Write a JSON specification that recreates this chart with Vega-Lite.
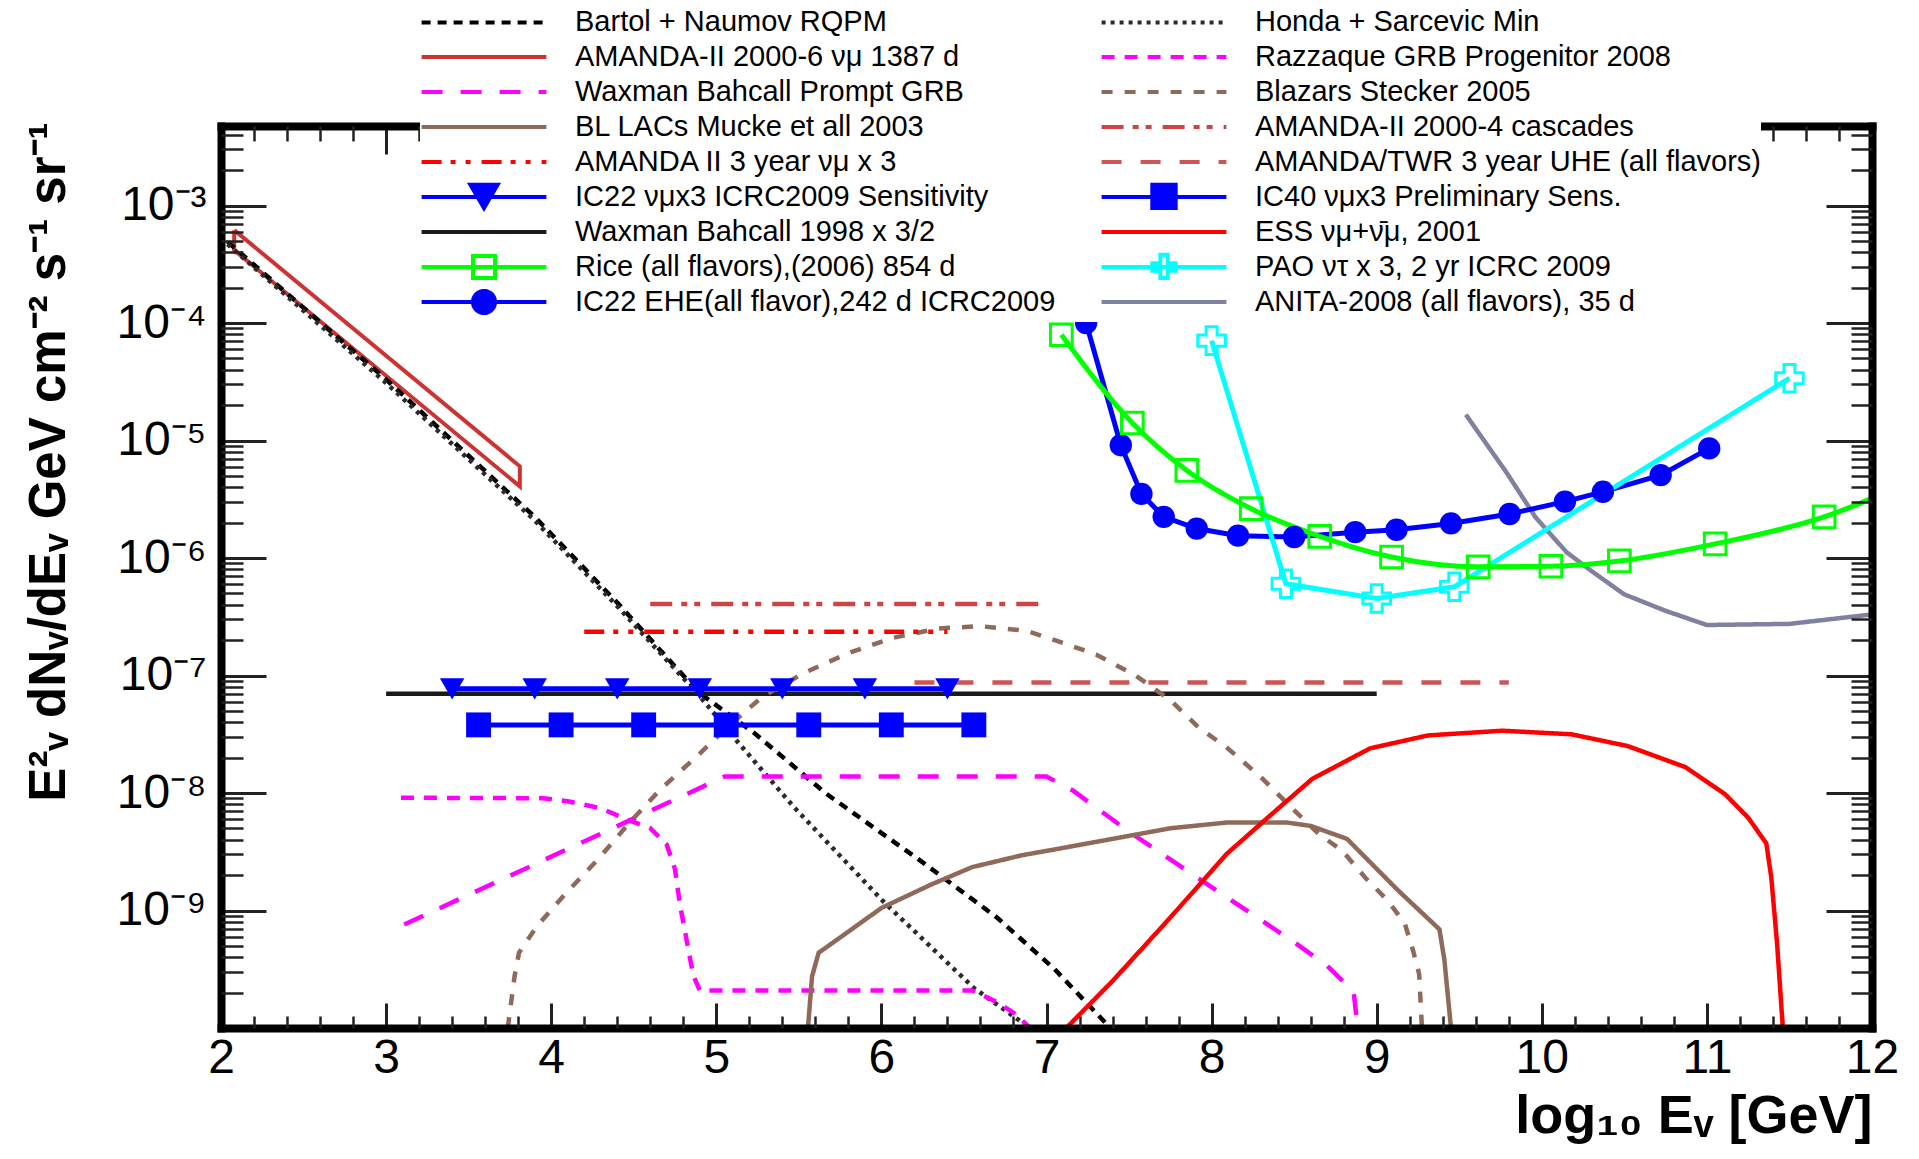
{
  "$schema": "https://vega.github.io/schema/vega-lite/v6.json",
  "width": 1651,
  "height": 902,
  "autosize": {"type": "none"},
  "padding": {"left": 221, "top": 126, "right": 47, "bottom": 131},
  "background": "#ffffff",
  "config": {"view": {"stroke": null}, "font": "Liberation Sans"},
  "datasets": {
    "band": [
      {"series": "AMANDA-II 2000-6 νμ 1387 d", "x": 2.08, "flux": 6.17e-4, "i": 0},
      {"series": "AMANDA-II 2000-6 νμ 1387 d", "x": 3.81, "flux": 6.03e-6, "i": 1},
      {"series": "AMANDA-II 2000-6 νμ 1387 d", "x": 3.81, "flux": 4.07e-6, "i": 2},
      {"series": "AMANDA-II 2000-6 νμ 1387 d", "x": 2.08, "flux": 4.17e-4, "i": 3},
      {"series": "AMANDA-II 2000-6 νμ 1387 d", "x": 2.08, "flux": 6.17e-4, "i": 4}
    ],
    "curves": [
      {"series": "Bartol + Naumov RQPM", "x": 2.04, "flux": 4.9e-4},
      {"series": "Bartol + Naumov RQPM", "x": 3.0, "flux": 3.31e-5},
      {"series": "Bartol + Naumov RQPM", "x": 3.9, "flux": 2.24e-6},
      {"series": "Bartol + Naumov RQPM", "x": 4.4, "flux": 4.17e-7},
      {"series": "Bartol + Naumov RQPM", "x": 4.89, "flux": 7.24e-8},
      {"series": "Bartol + Naumov RQPM", "x": 5.23, "flux": 3.24e-8},
      {"series": "Bartol + Naumov RQPM", "x": 5.66, "flux": 1.0e-8},
      {"series": "Bartol + Naumov RQPM", "x": 6.24, "flux": 2.63e-9},
      {"series": "Bartol + Naumov RQPM", "x": 6.7, "flux": 8.71e-10},
      {"series": "Bartol + Naumov RQPM", "x": 7.05, "flux": 3.16e-10},
      {"series": "Bartol + Naumov RQPM", "x": 7.4, "flux": 9.55e-11},

      {"series": "Honda + Sarcevic Min", "x": 2.04, "flux": 4.68e-4},
      {"series": "Honda + Sarcevic Min", "x": 3.0, "flux": 3.09e-5},
      {"series": "Honda + Sarcevic Min", "x": 3.9, "flux": 2.09e-6},
      {"series": "Honda + Sarcevic Min", "x": 4.4, "flux": 3.89e-7},
      {"series": "Honda + Sarcevic Min", "x": 4.89, "flux": 6.92e-8},
      {"series": "Honda + Sarcevic Min", "x": 5.12, "flux": 2.82e-8},
      {"series": "Honda + Sarcevic Min", "x": 5.47, "flux": 7.59e-9},
      {"series": "Honda + Sarcevic Min", "x": 6.01, "flux": 1.2e-9},
      {"series": "Honda + Sarcevic Min", "x": 6.56, "flux": 2.19e-10},
      {"series": "Honda + Sarcevic Min", "x": 6.95, "flux": 8.91e-11},

      {"series": "Waxman Bahcall 1998 x 3/2", "x": 3.0, "flux": 7.0e-8},
      {"series": "Waxman Bahcall 1998 x 3/2", "x": 9.0, "flux": 7.0e-8},

      {"series": "Waxman Bahcall Prompt GRB", "x": 3.11, "flux": 7.59e-10},
      {"series": "Waxman Bahcall Prompt GRB", "x": 5.05, "flux": 1.38e-8},
      {"series": "Waxman Bahcall Prompt GRB", "x": 7.0, "flux": 1.38e-8},
      {"series": "Waxman Bahcall Prompt GRB", "x": 7.16, "flux": 1.05e-8},
      {"series": "Waxman Bahcall Prompt GRB", "x": 7.5, "flux": 4.68e-9},
      {"series": "Waxman Bahcall Prompt GRB", "x": 8.0, "flux": 1.58e-9},
      {"series": "Waxman Bahcall Prompt GRB", "x": 8.5, "flux": 5.37e-10},
      {"series": "Waxman Bahcall Prompt GRB", "x": 8.7, "flux": 3.39e-10},
      {"series": "Waxman Bahcall Prompt GRB", "x": 8.86, "flux": 2.04e-10},
      {"series": "Waxman Bahcall Prompt GRB", "x": 8.885, "flux": 1.0e-10},

      {"series": "Razzaque GRB Progenitor 2008", "x": 3.09, "flux": 9.12e-9},
      {"series": "Razzaque GRB Progenitor 2008", "x": 3.95, "flux": 9.02e-9},
      {"series": "Razzaque GRB Progenitor 2008", "x": 4.1, "flux": 8.51e-9},
      {"series": "Razzaque GRB Progenitor 2008", "x": 4.3, "flux": 7.41e-9},
      {"series": "Razzaque GRB Progenitor 2008", "x": 4.45, "flux": 6.03e-9},
      {"series": "Razzaque GRB Progenitor 2008", "x": 4.6, "flux": 5.01e-9},
      {"series": "Razzaque GRB Progenitor 2008", "x": 4.7, "flux": 3.63e-9},
      {"series": "Razzaque GRB Progenitor 2008", "x": 4.75, "flux": 2.24e-9},
      {"series": "Razzaque GRB Progenitor 2008", "x": 4.78, "flux": 1.12e-9},
      {"series": "Razzaque GRB Progenitor 2008", "x": 4.82, "flux": 5.62e-10},
      {"series": "Razzaque GRB Progenitor 2008", "x": 4.86, "flux": 2.82e-10},
      {"series": "Razzaque GRB Progenitor 2008", "x": 4.9, "flux": 2.09e-10},
      {"series": "Razzaque GRB Progenitor 2008", "x": 6.55, "flux": 2.09e-10},
      {"series": "Razzaque GRB Progenitor 2008", "x": 6.7, "flux": 1.66e-10},
      {"series": "Razzaque GRB Progenitor 2008", "x": 6.8, "flux": 1.35e-10},
      {"series": "Razzaque GRB Progenitor 2008", "x": 6.92, "flux": 9.5e-11},

      {"series": "BL LACs Mucke et all 2003", "x": 5.555, "flux": 1.0e-10},
      {"series": "BL LACs Mucke et all 2003", "x": 5.58, "flux": 2.75e-10},
      {"series": "BL LACs Mucke et all 2003", "x": 5.62, "flux": 4.37e-10},
      {"series": "BL LACs Mucke et all 2003", "x": 5.75, "flux": 5.89e-10},
      {"series": "BL LACs Mucke et all 2003", "x": 6.0, "flux": 1.05e-9},
      {"series": "BL LACs Mucke et all 2003", "x": 6.3, "flux": 1.66e-9},
      {"series": "BL LACs Mucke et all 2003", "x": 6.55, "flux": 2.34e-9},
      {"series": "BL LACs Mucke et all 2003", "x": 6.85, "flux": 2.95e-9},
      {"series": "BL LACs Mucke et all 2003", "x": 7.05, "flux": 3.31e-9},
      {"series": "BL LACs Mucke et all 2003", "x": 7.4, "flux": 4.07e-9},
      {"series": "BL LACs Mucke et all 2003", "x": 7.75, "flux": 5.01e-9},
      {"series": "BL LACs Mucke et all 2003", "x": 8.1, "flux": 5.62e-9},
      {"series": "BL LACs Mucke et all 2003", "x": 8.45, "flux": 5.62e-9},
      {"series": "BL LACs Mucke et all 2003", "x": 8.6, "flux": 5.25e-9},
      {"series": "BL LACs Mucke et all 2003", "x": 8.82, "flux": 4.07e-9},
      {"series": "BL LACs Mucke et all 2003", "x": 9.13, "flux": 1.48e-9},
      {"series": "BL LACs Mucke et all 2003", "x": 9.38, "flux": 6.92e-10},
      {"series": "BL LACs Mucke et all 2003", "x": 9.41, "flux": 3.8e-10},
      {"series": "BL LACs Mucke et all 2003", "x": 9.45, "flux": 1.0e-10},

      {"series": "Blazars Stecker 2005", "x": 3.737, "flux": 1.0e-10},
      {"series": "Blazars Stecker 2005", "x": 3.778, "flux": 2.75e-10},
      {"series": "Blazars Stecker 2005", "x": 3.805, "flux": 4.37e-10},
      {"series": "Blazars Stecker 2005", "x": 3.91, "flux": 7.24e-10},
      {"series": "Blazars Stecker 2005", "x": 4.09, "flux": 1.41e-9},
      {"series": "Blazars Stecker 2005", "x": 4.28, "flux": 2.69e-9},
      {"series": "Blazars Stecker 2005", "x": 4.47, "flux": 5.5e-9},
      {"series": "Blazars Stecker 2005", "x": 4.66, "flux": 1.07e-8},
      {"series": "Blazars Stecker 2005", "x": 4.88, "flux": 2.04e-8},
      {"series": "Blazars Stecker 2005", "x": 5.09, "flux": 3.89e-8},
      {"series": "Blazars Stecker 2005", "x": 5.28, "flux": 6.61e-8},
      {"series": "Blazars Stecker 2005", "x": 5.53, "flux": 1.05e-7},
      {"series": "Blazars Stecker 2005", "x": 5.8, "flux": 1.55e-7},
      {"series": "Blazars Stecker 2005", "x": 6.07, "flux": 2.09e-7},
      {"series": "Blazars Stecker 2005", "x": 6.34, "flux": 2.51e-7},
      {"series": "Blazars Stecker 2005", "x": 6.6, "flux": 2.63e-7},
      {"series": "Blazars Stecker 2005", "x": 6.88, "flux": 2.4e-7},
      {"series": "Blazars Stecker 2005", "x": 7.05, "flux": 2.0e-7},
      {"series": "Blazars Stecker 2005", "x": 7.3, "flux": 1.51e-7},
      {"series": "Blazars Stecker 2005", "x": 7.54, "flux": 1.0e-7},
      {"series": "Blazars Stecker 2005", "x": 7.75, "flux": 6.17e-8},
      {"series": "Blazars Stecker 2005", "x": 7.92, "flux": 3.63e-8},
      {"series": "Blazars Stecker 2005", "x": 8.09, "flux": 2.45e-8},
      {"series": "Blazars Stecker 2005", "x": 8.3, "flux": 1.36e-8},
      {"series": "Blazars Stecker 2005", "x": 8.48, "flux": 7.59e-9},
      {"series": "Blazars Stecker 2005", "x": 8.65, "flux": 4.47e-9},
      {"series": "Blazars Stecker 2005", "x": 8.79, "flux": 3.24e-9},
      {"series": "Blazars Stecker 2005", "x": 8.93, "flux": 1.91e-9},
      {"series": "Blazars Stecker 2005", "x": 9.07, "flux": 1.2e-9},
      {"series": "Blazars Stecker 2005", "x": 9.17, "flux": 7.76e-10},
      {"series": "Blazars Stecker 2005", "x": 9.22, "flux": 4.57e-10},
      {"series": "Blazars Stecker 2005", "x": 9.257, "flux": 2.88e-10},
      {"series": "Blazars Stecker 2005", "x": 9.274, "flux": 1.0e-10},

      {"series": "AMANDA II 3 year νμ x 3", "x": 4.2, "flux": 2.36e-7},
      {"series": "AMANDA II 3 year νμ x 3", "x": 6.4, "flux": 2.36e-7},

      {"series": "AMANDA-II 2000-4 cascades", "x": 4.6, "flux": 4.07e-7},
      {"series": "AMANDA-II 2000-4 cascades", "x": 6.97, "flux": 4.07e-7},

      {"series": "AMANDA/TWR 3 year UHE (all flavors)", "x": 6.2, "flux": 8.7e-8},
      {"series": "AMANDA/TWR 3 year UHE (all flavors)", "x": 9.8, "flux": 8.7e-8},

      {"series": "ESS νμ+ν̄μ, 2001", "x": 7.12, "flux": 1.0e-10},
      {"series": "ESS νμ+ν̄μ, 2001", "x": 7.4, "flux": 2.51e-10},
      {"series": "ESS νμ+ν̄μ, 2001", "x": 7.75, "flux": 8.71e-10},
      {"series": "ESS νμ+ν̄μ, 2001", "x": 8.09, "flux": 3.02e-9},
      {"series": "ESS νμ+ν̄μ, 2001", "x": 8.34, "flux": 6.17e-9},
      {"series": "ESS νμ+ν̄μ, 2001", "x": 8.61, "flux": 1.32e-8},
      {"series": "ESS νμ+ν̄μ, 2001", "x": 8.96, "flux": 2.4e-8},
      {"series": "ESS νμ+ν̄μ, 2001", "x": 9.31, "flux": 3.09e-8},
      {"series": "ESS νμ+ν̄μ, 2001", "x": 9.76, "flux": 3.39e-8},
      {"series": "ESS νμ+ν̄μ, 2001", "x": 10.18, "flux": 3.16e-8},
      {"series": "ESS νμ+ν̄μ, 2001", "x": 10.52, "flux": 2.51e-8},
      {"series": "ESS νμ+ν̄μ, 2001", "x": 10.87, "flux": 1.66e-8},
      {"series": "ESS νμ+ν̄μ, 2001", "x": 11.11, "flux": 9.77e-9},
      {"series": "ESS νμ+ν̄μ, 2001", "x": 11.25, "flux": 6.17e-9},
      {"series": "ESS νμ+ν̄μ, 2001", "x": 11.36, "flux": 3.72e-9},
      {"series": "ESS νμ+ν̄μ, 2001", "x": 11.39, "flux": 1.91e-9},
      {"series": "ESS νμ+ν̄μ, 2001", "x": 11.425, "flux": 5.25e-10},
      {"series": "ESS νμ+ν̄μ, 2001", "x": 11.46, "flux": 1.0e-10},

      {"series": "ANITA-2008 (all flavors), 35 d", "x": 9.54, "flux": 1.66e-5},
      {"series": "ANITA-2008 (all flavors), 35 d", "x": 9.79, "flux": 5.25e-6},
      {"series": "ANITA-2008 (all flavors), 35 d", "x": 9.96, "flux": 2.24e-6},
      {"series": "ANITA-2008 (all flavors), 35 d", "x": 10.15, "flux": 1.12e-6},
      {"series": "ANITA-2008 (all flavors), 35 d", "x": 10.3, "flux": 7.76e-7},
      {"series": "ANITA-2008 (all flavors), 35 d", "x": 10.5, "flux": 4.9e-7},
      {"series": "ANITA-2008 (all flavors), 35 d", "x": 10.75, "flux": 3.55e-7},
      {"series": "ANITA-2008 (all flavors), 35 d", "x": 11.0, "flux": 2.69e-7},
      {"series": "ANITA-2008 (all flavors), 35 d", "x": 11.5, "flux": 2.75e-7},
      {"series": "ANITA-2008 (all flavors), 35 d", "x": 12.0, "flux": 3.31e-7}
    ],
    "marked": [
      {"series": "IC22 νμx3 ICRC2009 Sensitivity", "x": 3.4, "flux": 7.7e-8},
      {"series": "IC22 νμx3 ICRC2009 Sensitivity", "x": 3.9, "flux": 7.7e-8},
      {"series": "IC22 νμx3 ICRC2009 Sensitivity", "x": 4.4, "flux": 7.7e-8},
      {"series": "IC22 νμx3 ICRC2009 Sensitivity", "x": 4.9, "flux": 7.7e-8},
      {"series": "IC22 νμx3 ICRC2009 Sensitivity", "x": 5.4, "flux": 7.7e-8},
      {"series": "IC22 νμx3 ICRC2009 Sensitivity", "x": 5.9, "flux": 7.7e-8},
      {"series": "IC22 νμx3 ICRC2009 Sensitivity", "x": 6.4, "flux": 7.7e-8},

      {"series": "IC40 νμx3 Preliminary Sens.", "x": 3.56, "flux": 3.8e-8},
      {"series": "IC40 νμx3 Preliminary Sens.", "x": 4.06, "flux": 3.8e-8},
      {"series": "IC40 νμx3 Preliminary Sens.", "x": 4.56, "flux": 3.8e-8},
      {"series": "IC40 νμx3 Preliminary Sens.", "x": 5.06, "flux": 3.8e-8},
      {"series": "IC40 νμx3 Preliminary Sens.", "x": 5.56, "flux": 3.8e-8},
      {"series": "IC40 νμx3 Preliminary Sens.", "x": 6.06, "flux": 3.8e-8},
      {"series": "IC40 νμx3 Preliminary Sens.", "x": 6.56, "flux": 3.8e-8},

      {"series": "Rice (all flavors),(2006) 854 d", "x": 7.09, "flux": 7.94e-5},
      {"series": "Rice (all flavors),(2006) 854 d", "x": 7.52, "flux": 1.41e-5},
      {"series": "Rice (all flavors),(2006) 854 d", "x": 7.85, "flux": 5.56e-6},
      {"series": "Rice (all flavors),(2006) 854 d", "x": 8.24, "flux": 2.63e-6},
      {"series": "Rice (all flavors),(2006) 854 d", "x": 8.655, "flux": 1.53e-6},
      {"series": "Rice (all flavors),(2006) 854 d", "x": 9.09, "flux": 1.02e-6},
      {"series": "Rice (all flavors),(2006) 854 d", "x": 9.615, "flux": 8.41e-7},
      {"series": "Rice (all flavors),(2006) 854 d", "x": 10.055, "flux": 8.51e-7},
      {"series": "Rice (all flavors),(2006) 854 d", "x": 10.47, "flux": 9.44e-7},
      {"series": "Rice (all flavors),(2006) 854 d", "x": 11.05, "flux": 1.32e-6},
      {"series": "Rice (all flavors),(2006) 854 d", "x": 11.71, "flux": 2.24e-6},
      {"series": "Rice (all flavors),(2006) 854 d", "x": 12.35, "flux": 5.37e-6},

      {"series": "IC22 EHE(all flavor),242 d ICRC2009", "x": 7.24, "flux": 1.0e-4},
      {"series": "IC22 EHE(all flavor),242 d ICRC2009", "x": 7.45, "flux": 9.12e-6},
      {"series": "IC22 EHE(all flavor),242 d ICRC2009", "x": 7.575, "flux": 3.51e-6},
      {"series": "IC22 EHE(all flavor),242 d ICRC2009", "x": 7.71, "flux": 2.24e-6},
      {"series": "IC22 EHE(all flavor),242 d ICRC2009", "x": 7.91, "flux": 1.78e-6},
      {"series": "IC22 EHE(all flavor),242 d ICRC2009", "x": 8.16, "flux": 1.55e-6},
      {"series": "IC22 EHE(all flavor),242 d ICRC2009", "x": 8.5, "flux": 1.51e-6},
      {"series": "IC22 EHE(all flavor),242 d ICRC2009", "x": 8.87, "flux": 1.66e-6},
      {"series": "IC22 EHE(all flavor),242 d ICRC2009", "x": 9.12, "flux": 1.74e-6},
      {"series": "IC22 EHE(all flavor),242 d ICRC2009", "x": 9.45, "flux": 1.97e-6},
      {"series": "IC22 EHE(all flavor),242 d ICRC2009", "x": 9.805, "flux": 2.37e-6},
      {"series": "IC22 EHE(all flavor),242 d ICRC2009", "x": 10.14, "flux": 3.02e-6},
      {"series": "IC22 EHE(all flavor),242 d ICRC2009", "x": 10.37, "flux": 3.66e-6},
      {"series": "IC22 EHE(all flavor),242 d ICRC2009", "x": 10.72, "flux": 5.08e-6},
      {"series": "IC22 EHE(all flavor),242 d ICRC2009", "x": 11.014, "flux": 8.57e-6},

      {"series": "PAO ντ x 3, 2 yr ICRC 2009", "x": 8.0, "flux": 7.08e-5},
      {"series": "PAO ντ x 3, 2 yr ICRC 2009", "x": 8.45, "flux": 6.03e-7},
      {"series": "PAO ντ x 3, 2 yr ICRC 2009", "x": 9.0, "flux": 4.52e-7},
      {"series": "PAO ντ x 3, 2 yr ICRC 2009", "x": 9.47, "flux": 5.69e-7},
      {"series": "PAO ντ x 3, 2 yr ICRC 2009", "x": 11.5, "flux": 3.39e-5}
    ]
  },
  "resolve": {"axis": {"x": "independent", "y": "independent"}},
  "encoding": {
    "x": {"field": "x", "type": "quantitative", "scale": {"domain": [2, 12], "nice": false, "zero": false}, "axis": null},
    "y": {"field": "flux", "type": "quantitative", "scale": {"type": "log", "domain": [1e-10, 0.00475], "nice": false}, "axis": null}
  },
  "layer": [
    {
      "data": {"name": "band"},
      "mark": {"type": "line", "color": "#cc3333", "strokeWidth": 4, "clip": true},
      "encoding": {
        "x": {
          "field": "x", "type": "quantitative",
          "scale": {"domain": [2, 12], "nice": false, "zero": false},
          "axis": {
            "orient": "bottom", "values": [2, 3, 4, 5, 6, 7, 8, 9, 10, 11, 12], "format": "d",
            "grid": false, "zindex": 1,
            "domain": true, "domainColor": "#000000", "domainWidth": 8, "domainCap": "square",
            "ticks": true, "tickSize": -25, "tickWidth": 3, "tickColor": "#222222",
            "labelFont": "Liberation Sans", "labelFontSize": 48, "labelColor": "#000000",
            "labelPadding": 31, "labelFlush": false, "labelOverlap": false,
            "title": "log₁₀ Eᵥ [GeV]", "titleFont": "Liberation Sans", "titleFontSize": 54,
            "titleFontWeight": "bold", "titleColor": "#000000", "titleAlign": "right",
            "titleBaseline": "alphabetic", "titleX": 1651, "titleY": 104
          }
        },
        "y": {
          "field": "flux", "type": "quantitative",
          "scale": {"type": "log", "domain": [1e-10, 0.00475], "nice": false},
          "axis": {
            "orient": "left", "values": [1e-9, 1e-8, 1e-7, 1e-6, 1e-5, 1e-4, 1e-3],
            "grid": false, "zindex": 1,
            "domain": true, "domainColor": "#000000", "domainWidth": 8, "domainCap": "square",
            "ticks": true, "tickSize": -45, "tickWidth": 3, "tickColor": "#222222",
            "labelExpr": "'10⁻' + ['⁰','¹','²','³','⁴','⁵','⁶','⁷','⁸','⁹'][round(-log(datum.value)/LN10)]",
            "labelFont": "Liberation Sans", "labelFontSize": 48, "labelColor": "#000000",
            "labelPadding": 60, "labelOverlap": false,
            "title": "E²ᵥ dNᵥ/dEᵥ  GeV cm⁻² s⁻¹ sr⁻¹", "titleFont": "Liberation Sans",
            "titleFontSize": 51, "titleFontWeight": "bold", "titleColor": "#000000",
            "titleAngle": 270, "titleAlign": "right", "titleBaseline": "middle",
            "titleX": -172, "titleY": -4
          }
        },
        "order": {"field": "i", "type": "quantitative"}
      }
    },
    {
      "data": {"name": "curves"},
      "mark": {"type": "line", "strokeWidth": 4.5, "clip": true},
      "encoding": {
        "x": {
          "field": "x", "type": "quantitative",
          "scale": {"domain": [2, 12], "nice": false, "zero": false},
          "axis": {
            "orient": "bottom",
            "values": [2.2, 2.4, 2.6, 2.8, 3.2, 3.4, 3.6, 3.8, 4.2, 4.4, 4.6, 4.8, 5.2, 5.4, 5.6, 5.8, 6.2, 6.4, 6.6, 6.8, 7.2, 7.4, 7.6, 7.8, 8.2, 8.4, 8.6, 8.8, 9.2, 9.4, 9.6, 9.8, 10.2, 10.4, 10.6, 10.8, 11.2, 11.4, 11.6, 11.8],
            "grid": false, "zindex": 1, "domain": false, "labels": false, "title": null,
            "tickSize": -12, "tickWidth": 2.5, "tickColor": "#222222"
          }
        },
        "y": {
          "field": "flux", "type": "quantitative",
          "scale": {"type": "log", "domain": [1e-10, 0.00475], "nice": false},
          "axis": {
            "orient": "left",
            "values": [2e-10, 3e-10, 4e-10, 5e-10, 6e-10, 7e-10, 8e-10, 9e-10, 2e-9, 3e-9, 4e-9, 5e-9, 6e-9, 7e-9, 8e-9, 9e-9, 2e-8, 3e-8, 4e-8, 5e-8, 6e-8, 7e-8, 8e-8, 9e-8, 2e-7, 3e-7, 4e-7, 5e-7, 6e-7, 7e-7, 8e-7, 9e-7, 2e-6, 3e-6, 4e-6, 5e-6, 6e-6, 7e-6, 8e-6, 9e-6, 2e-5, 3e-5, 4e-5, 5e-5, 6e-5, 7e-5, 8e-5, 9e-5, 2e-4, 3e-4, 4e-4, 5e-4, 6e-4, 7e-4, 8e-4, 9e-4, 2e-3, 3e-3, 4e-3],
            "grid": false, "zindex": 1, "domain": false, "labels": false, "title": null,
            "tickSize": -22, "tickWidth": 2.5, "tickColor": "#222222"
          }
        },
        "color": {
          "field": "series", "type": "nominal", "legend": null,
          "scale": {
            "domain": ["Bartol + Naumov RQPM", "Honda + Sarcevic Min", "Razzaque GRB Progenitor 2008", "Waxman Bahcall Prompt GRB", "Blazars Stecker 2005", "BL LACs Mucke et all 2003", "AMANDA-II 2000-4 cascades", "AMANDA II 3 year νμ x 3", "AMANDA/TWR 3 year UHE (all flavors)", "Waxman Bahcall 1998 x 3/2", "ESS νμ+ν̄μ, 2001", "ANITA-2008 (all flavors), 35 d", "IC22 νμx3 ICRC2009 Sensitivity", "IC40 νμx3 Preliminary Sens.", "Rice (all flavors),(2006) 854 d", "PAO ντ x 3, 2 yr ICRC 2009", "IC22 EHE(all flavor),242 d ICRC2009"],
            "range": ["#000000", "#2b2b2b", "#ff00ff", "#ff00ff", "#8f6a5a", "#8f6a5a", "#cc4444", "#ff0000", "#cc5555", "#1a1a1a", "#ff0000", "#8080a0", "#0000ff", "#0000ff", "#00ff00", "#00ffff", "#0000ff"]
          }
        },
        "strokeDash": {
          "field": "series", "type": "nominal", "legend": null,
          "scale": {
            "domain": ["Bartol + Naumov RQPM", "Honda + Sarcevic Min", "Razzaque GRB Progenitor 2008", "Waxman Bahcall Prompt GRB", "Blazars Stecker 2005", "BL LACs Mucke et all 2003", "AMANDA-II 2000-4 cascades", "AMANDA II 3 year νμ x 3", "AMANDA/TWR 3 year UHE (all flavors)", "Waxman Bahcall 1998 x 3/2", "ESS νμ+ν̄μ, 2001", "ANITA-2008 (all flavors), 35 d", "IC22 νμx3 ICRC2009 Sensitivity", "IC40 νμx3 Preliminary Sens.", "Rice (all flavors),(2006) 854 d", "PAO ντ x 3, 2 yr ICRC 2009", "IC22 EHE(all flavor),242 d ICRC2009"],
            "range": [[9, 7], [4, 5], [13, 10], [21, 18], [11, 12], [1, 0], [22, 9, 6, 7, 6, 11], [20, 9, 5, 10, 5, 11], [20, 19], [1, 0], [1, 0], [1, 0], [1, 0], [1, 0], [1, 0], [1, 0], [1, 0]]
          }
        }
      }
    },
    {
      "data": {"name": "marked"},
      "transform": [{"filter": "datum.series !== 'Rice (all flavors),(2006) 854 d'"}],
      "mark": {"type": "line", "strokeWidth": 5, "clip": true},
      "encoding": {
        "x": {
          "field": "x", "type": "quantitative",
          "scale": {"domain": [2, 12], "nice": false, "zero": false},
          "axis": {
            "orient": "top", "values": [2, 3, 4, 5, 6, 7, 8, 9, 10, 11, 12],
            "grid": false, "zindex": 1, "labels": false, "title": null,
            "domain": true, "domainColor": "#000000", "domainWidth": 8, "domainCap": "square",
            "tickSize": -28, "tickWidth": 3, "tickColor": "#222222"
          }
        },
        "y": {
          "field": "flux", "type": "quantitative",
          "scale": {"type": "log", "domain": [1e-10, 0.00475], "nice": false},
          "axis": {
            "orient": "right", "values": [1e-9, 1e-8, 1e-7, 1e-6, 1e-5, 1e-4, 1e-3],
            "grid": false, "zindex": 1, "labels": false, "title": null,
            "domain": true, "domainColor": "#000000", "domainWidth": 8, "domainCap": "square",
            "tickSize": -46, "tickWidth": 3, "tickColor": "#222222"
          }
        },
        "color": {
          "field": "series", "type": "nominal", "legend": null,
          "scale": {
            "domain": ["Bartol + Naumov RQPM", "Honda + Sarcevic Min", "Razzaque GRB Progenitor 2008", "Waxman Bahcall Prompt GRB", "Blazars Stecker 2005", "BL LACs Mucke et all 2003", "AMANDA-II 2000-4 cascades", "AMANDA II 3 year νμ x 3", "AMANDA/TWR 3 year UHE (all flavors)", "Waxman Bahcall 1998 x 3/2", "ESS νμ+ν̄μ, 2001", "ANITA-2008 (all flavors), 35 d", "IC22 νμx3 ICRC2009 Sensitivity", "IC40 νμx3 Preliminary Sens.", "Rice (all flavors),(2006) 854 d", "PAO ντ x 3, 2 yr ICRC 2009", "IC22 EHE(all flavor),242 d ICRC2009"],
            "range": ["#000000", "#2b2b2b", "#ff00ff", "#ff00ff", "#8f6a5a", "#8f6a5a", "#cc4444", "#ff0000", "#cc5555", "#1a1a1a", "#ff0000", "#8080a0", "#0000ff", "#0000ff", "#00ff00", "#00ffff", "#0000ff"]
          }
        }
      }
    },
    {
      "data": {"name": "marked"},
      "transform": [{"filter": "datum.series === 'Rice (all flavors),(2006) 854 d'"}],
      "mark": {"type": "line", "color": "#00ff00", "strokeWidth": 5, "interpolate": "monotone", "clip": true},
      "encoding": {
        "x": {
          "field": "x", "type": "quantitative",
          "scale": {"domain": [2, 12], "nice": false, "zero": false},
          "axis": {
            "orient": "top",
            "values": [2.2, 2.4, 2.6, 2.8, 3.2, 3.4, 3.6, 3.8, 4.2, 4.4, 4.6, 4.8, 5.2, 5.4, 5.6, 5.8, 6.2, 6.4, 6.6, 6.8, 7.2, 7.4, 7.6, 7.8, 8.2, 8.4, 8.6, 8.8, 9.2, 9.4, 9.6, 9.8, 10.2, 10.4, 10.6, 10.8, 11.2, 11.4, 11.6, 11.8],
            "grid": false, "zindex": 1, "domain": false, "labels": false, "title": null,
            "tickSize": -15, "tickWidth": 2.5, "tickColor": "#222222"
          }
        },
        "y": {
          "field": "flux", "type": "quantitative",
          "scale": {"type": "log", "domain": [1e-10, 0.00475], "nice": false},
          "axis": {
            "orient": "right",
            "values": [2e-10, 3e-10, 4e-10, 5e-10, 6e-10, 7e-10, 8e-10, 9e-10, 2e-9, 3e-9, 4e-9, 5e-9, 6e-9, 7e-9, 8e-9, 9e-9, 2e-8, 3e-8, 4e-8, 5e-8, 6e-8, 7e-8, 8e-8, 9e-8, 2e-7, 3e-7, 4e-7, 5e-7, 6e-7, 7e-7, 8e-7, 9e-7, 2e-6, 3e-6, 4e-6, 5e-6, 6e-6, 7e-6, 8e-6, 9e-6, 2e-5, 3e-5, 4e-5, 5e-5, 6e-5, 7e-5, 8e-5, 9e-5, 2e-4, 3e-4, 4e-4, 5e-4, 6e-4, 7e-4, 8e-4, 9e-4, 2e-3, 3e-3, 4e-3],
            "grid": false, "zindex": 1, "domain": false, "labels": false, "title": null,
            "tickSize": -21, "tickWidth": 2.5, "tickColor": "#222222"
          }
        }
      }
    },
    {
      "data": {"name": "marked"},
      "transform": [{"filter": "datum.series === 'IC22 νμx3 ICRC2009 Sensitivity'"}],
      "mark": {"type": "point", "shape": "triangle-down", "filled": true, "color": "#0000ff", "size": 600, "opacity": 1}
    },
    {
      "data": {"name": "marked"},
      "transform": [{"filter": "datum.series === 'IC40 νμx3 Preliminary Sens.'"}],
      "mark": {"type": "point", "shape": "square", "filled": true, "color": "#0000ff", "size": 620, "opacity": 1}
    },
    {
      "data": {"name": "marked"},
      "transform": [{"filter": "datum.series === 'IC22 EHE(all flavor),242 d ICRC2009'"}],
      "mark": {"type": "point", "shape": "circle", "filled": true, "color": "#0000ff", "size": 500, "opacity": 1}
    },
    {
      "data": {"name": "marked"},
      "transform": [{"filter": "datum.series === 'Rice (all flavors),(2006) 854 d'"}],
      "mark": {"type": "point", "shape": "square", "filled": false, "color": "#00ff00", "strokeWidth": 3, "size": 470, "opacity": 1, "clip": true}
    },
    {
      "data": {"name": "marked"},
      "transform": [{"filter": "datum.series === 'PAO ντ x 3, 2 yr ICRC 2009'"}],
      "mark": {"type": "point", "shape": "cross", "filled": false, "color": "#00ffff", "strokeWidth": 3, "size": 760, "opacity": 1}
    },
    {
      "data": {"values": []},
      "mark": {"type": "point", "filled": true, "size": 676, "strokeWidth": 4, "opacity": 1},
      "encoding": {
        "x": null,
        "y": null,
        "shape": {
          "field": "series", "type": "nominal", "title": null,
          "scale": {
            "domain": ["Bartol + Naumov RQPM", "AMANDA-II 2000-6 νμ 1387 d", "Waxman Bahcall Prompt GRB", "BL LACs Mucke et all 2003", "AMANDA II 3 year νμ x 3", "IC22 νμx3 ICRC2009 Sensitivity", "Waxman Bahcall 1998 x 3/2", "Rice (all flavors),(2006) 854 d", "IC22 EHE(all flavor),242 d ICRC2009", "Honda + Sarcevic Min", "Razzaque GRB Progenitor 2008", "Blazars Stecker 2005", "AMANDA-II 2000-4 cascades", "AMANDA/TWR 3 year UHE (all flavors)", "IC40 νμx3 Preliminary Sens.", "ESS νμ+ν̄μ, 2001", "PAO ντ x 3, 2 yr ICRC 2009", "ANITA-2008 (all flavors), 35 d"],
            "range": [
              "M0,0.85L0,0.85M-4.8,0H4.8",
              "M0,0.85L0,0.85M-4.8,0H4.8",
              "M0,0.85L0,0.85M-4.8,0H4.8",
              "M0,0.85L0,0.85M-4.8,0H4.8",
              "M0,0.85L0,0.85M-4.8,0H4.8",
              "M0,0.85L0,0.85M-4.8,0H4.8M-1.05,-0.95H1.05L0,0.85Z",
              "M0,0.85L0,0.85M-4.8,0H4.8",
              "M0,0.85L0,0.85M-4.8,0H4.8M-0.85,-0.85H0.85V0.85H-0.85Z",
              "M0,0.85L0,0.85M-4.8,0H4.8M-0.85,0A0.85,0.85 0 1,0 0.85,0A0.85,0.85 0 1,0 -0.85,0Z",
              "M0,0.85L0,0.85M-4.8,0H4.8",
              "M0,0.85L0,0.85M-4.8,0H4.8",
              "M0,0.85L0,0.85M-4.8,0H4.8",
              "M0,0.85L0,0.85M-4.8,0H4.8",
              "M0,0.85L0,0.85M-4.8,0H4.8",
              "M0,0.85L0,0.85M-4.8,0H4.8M-0.9,-0.95H0.9V0.85H-0.9Z",
              "M0,0.85L0,0.85M-4.8,0H4.8",
              "M0,0.85L0,0.85M-4.8,0H4.8M-0.28,-0.95H0.28V-0.28H0.9V0.28H0.28V0.85H-0.28V0.28H-0.9V-0.28H-0.28Z",
              "M0,0.85L0,0.85M-4.8,0H4.8"
            ]
          },
          "legend": {
            "title": null, "orient": "none", "direction": "vertical", "legendX": 199, "legendY": -119,
            "columns": 2, "columnPadding": 37, "rowPadding": -30, "padding": 0, "fillColor": "#ffffff",
            "labelFont": "Liberation Sans", "labelFontSize": 29, "labelColor": "#000000",
            "labelLimit": 900, "labelOffset": 76, "symbolOffset": 49, "symbolSize": 676,
            "symbolStrokeWidth": 4, "zindex": 2,
            "encoding": {
              "symbols": {
                "stroke": {"value": {"expr": "['#000000','#cc3333','#ff00ff','#8f6a5a','#ff0000','#0000ff','#1a1a1a','#00ff00','#0000ff','#2b2b2b','#ff00ff','#8f6a5a','#cc4444','#cc5555','#0000ff','#ff0000','#00ffff','#8080a0'][datum.index]"}},
                "fill": {"value": {"expr": "['transparent','transparent','transparent','transparent','transparent','#0000ff','transparent','transparent','#0000ff','transparent','transparent','transparent','transparent','transparent','#0000ff','transparent','transparent','transparent'][datum.index]"}},
                "strokeDash": {"value": {"expr": "[[9,7],[1,0],[21,18],[1,0],[20,9,5,10,5,11],[1,0],[1,0],[1,0],[1,0],[4,5],[13,10],[11,12],[22,9,6,7,6,11],[20,19],[1,0],[1,0],[1,0],[1,0]][datum.index]"}},
                "strokeWidth": {"value": 4},
                "opacity": {"value": 1}
              }
            }
          }
        }
      }
    }
  ]
}
